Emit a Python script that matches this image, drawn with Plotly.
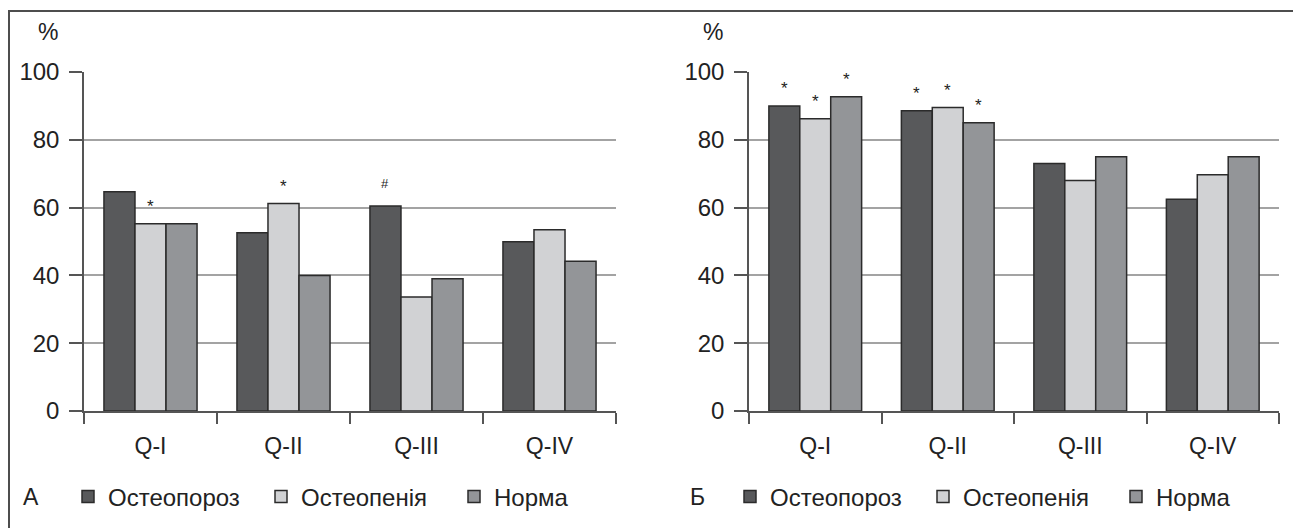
import plotly.graph_objects as go

categories = ["Q-I", "Q-II", "Q-III", "Q-IV"]
series_names = ["Остеопороз", "Остеопенія", "Норма"]
series_colors = ["#58595b", "#d1d2d4", "#939598"]

# Panel А
a_osteoporosis = [64.7, 52.6, 60.5, 49.9]
a_osteopenia = [55.2, 61.2, 33.6, 53.5]
a_norm = [55.2, 40.0, 39.0, 44.2]

# Panel Б
b_osteoporosis = [90.0, 88.6, 73.0, 62.5]
b_osteopenia = [86.2, 89.5, 68.0, 69.7]
b_norm = [92.7, 85.0, 75.0, 75.0]

# significance marks: (category index, series index, symbol)
a_marks = [(0, 1, "*"), (1, 1, "*"), (2, 0, "#")]
b_marks = [(0, 0, "*"), (0, 1, "*"), (0, 2, "*"), (1, 0, "*"), (1, 1, "*"), (1, 2, "*")]

y_ticks = [0, 20, 40, 60, 80, 100]
panel_labels = ["А", "Б"]

FONT = "Liberation Sans, Arial, sans-serif"
OFF = 8  # page body margin
W, H = 1293, 520

fig = go.Figure()

panels = [
    ([a_osteoporosis, a_osteopenia, a_norm], a_marks, "x", "y", "legend"),
    ([b_osteoporosis, b_osteopenia, b_norm], b_marks, "x2", "y2", "legend2"),
]

for vals_list, marks, xa, ya, lg in panels:
    for name, vals, col in zip(series_names, vals_list, series_colors):
        fig.add_trace(go.Bar(
            x=categories, y=vals, name=name, xaxis=xa, yaxis=ya, legend=lg,
            marker=dict(color=col, line=dict(color="#2b2b2b", width=1.5)),
            hoverinfo="skip",
        ))
    bar_px = 133 * 0.7 / 3
    for ci, si, sym in marks:
        v = vals_list[si][ci]
        fig.add_annotation(
            x=categories[ci], y=v, xref=xa, yref=ya,
            text=sym, showarrow=False, yanchor="bottom",
            xshift=(si - 1) * bar_px, yshift=6 if sym == "*" else 13,
            font=dict(family=FONT, size=17 if sym == "*" else 13, color="#222"),
        )

def px_x(p):
    return (p - OFF) / W

def px_y(p):
    return (H - (p - OFF)) / H

y_dom = [px_y(411), px_y(72)]

axis_common = dict(
    type="category", showgrid=False, showline=True, linecolor="#555555", linewidth=1.5,
    ticks="outside", tickson="boundaries", ticklen=11, tickcolor="#555555", tickwidth=1.5,
    tickfont=dict(family=FONT, size=23, color="#222"), ticklabelstandoff=14,
    fixedrange=True, automargin=False,
)
yaxis_common = dict(
    range=[0, 100], tickvals=y_ticks, showgrid=True, gridcolor="#a3a3a3", gridwidth=1.5,
    showline=True, linecolor="#555555", linewidth=1.5, zeroline=False,
    ticks="outside", ticklen=13, tickcolor="#555555", tickwidth=1.5,
    tickfont=dict(family=FONT, size=24, color="#222"), ticklabelstandoff=5,
    fixedrange=True, domain=y_dom, automargin=False,
)

legend_common = dict(
    orientation="h", xanchor="left", yanchor="middle", y=px_y(497),
    font=dict(family=FONT, size=24, color="#222"), entrywidth=148,
    itemwidth=30, bgcolor="rgba(0,0,0,0)", tracegroupgap=0,
)

fig.update_layout(
    width=W, height=H,
    margin=dict(l=0, r=0, t=0, b=0, pad=0, autoexpand=False),
    paper_bgcolor="white", plot_bgcolor="white",
    barmode="group", bargap=0.3, bargroupgap=0,
    xaxis=dict(domain=[px_x(84), px_x(616)], anchor="y", **axis_common),
    xaxis2=dict(domain=[px_x(749), px_x(1279)], anchor="y2", **axis_common),
    yaxis=dict(anchor="x", **yaxis_common),
    yaxis2=dict(anchor="x2", **yaxis_common),
    legend=dict(x=px_x(68), **legend_common),
    legend2=dict(x=px_x(730), **legend_common),
    showlegend=True,
)

# panel letters and % labels
for lbl, xp, pct_x in zip(panel_labels, [31, 697], [48, 713]):
    fig.add_annotation(x=px_x(xp), y=px_y(497), xref="paper", yref="paper", text=lbl,
                       showarrow=False, xanchor="center", yanchor="middle",
                       font=dict(family=FONT, size=23, color="#222"))
    fig.add_annotation(x=px_x(pct_x), y=px_y(32), xref="paper", yref="paper", text="%",
                       showarrow=False, xanchor="center", yanchor="middle",
                       font=dict(family=FONT, size=23, color="#222"))

# outer frame (open at the bottom edge)
fig.add_shape(type="rect", xref="paper", yref="paper",
              x0=px_x(9), x1=px_x(1298), y0=-0.1, y1=px_y(11),
              line=dict(color="#4d4d4d", width=2), fillcolor="rgba(0,0,0,0)", layer="below")

fig.write_html("out.html", config={"displayModeBar": False})
